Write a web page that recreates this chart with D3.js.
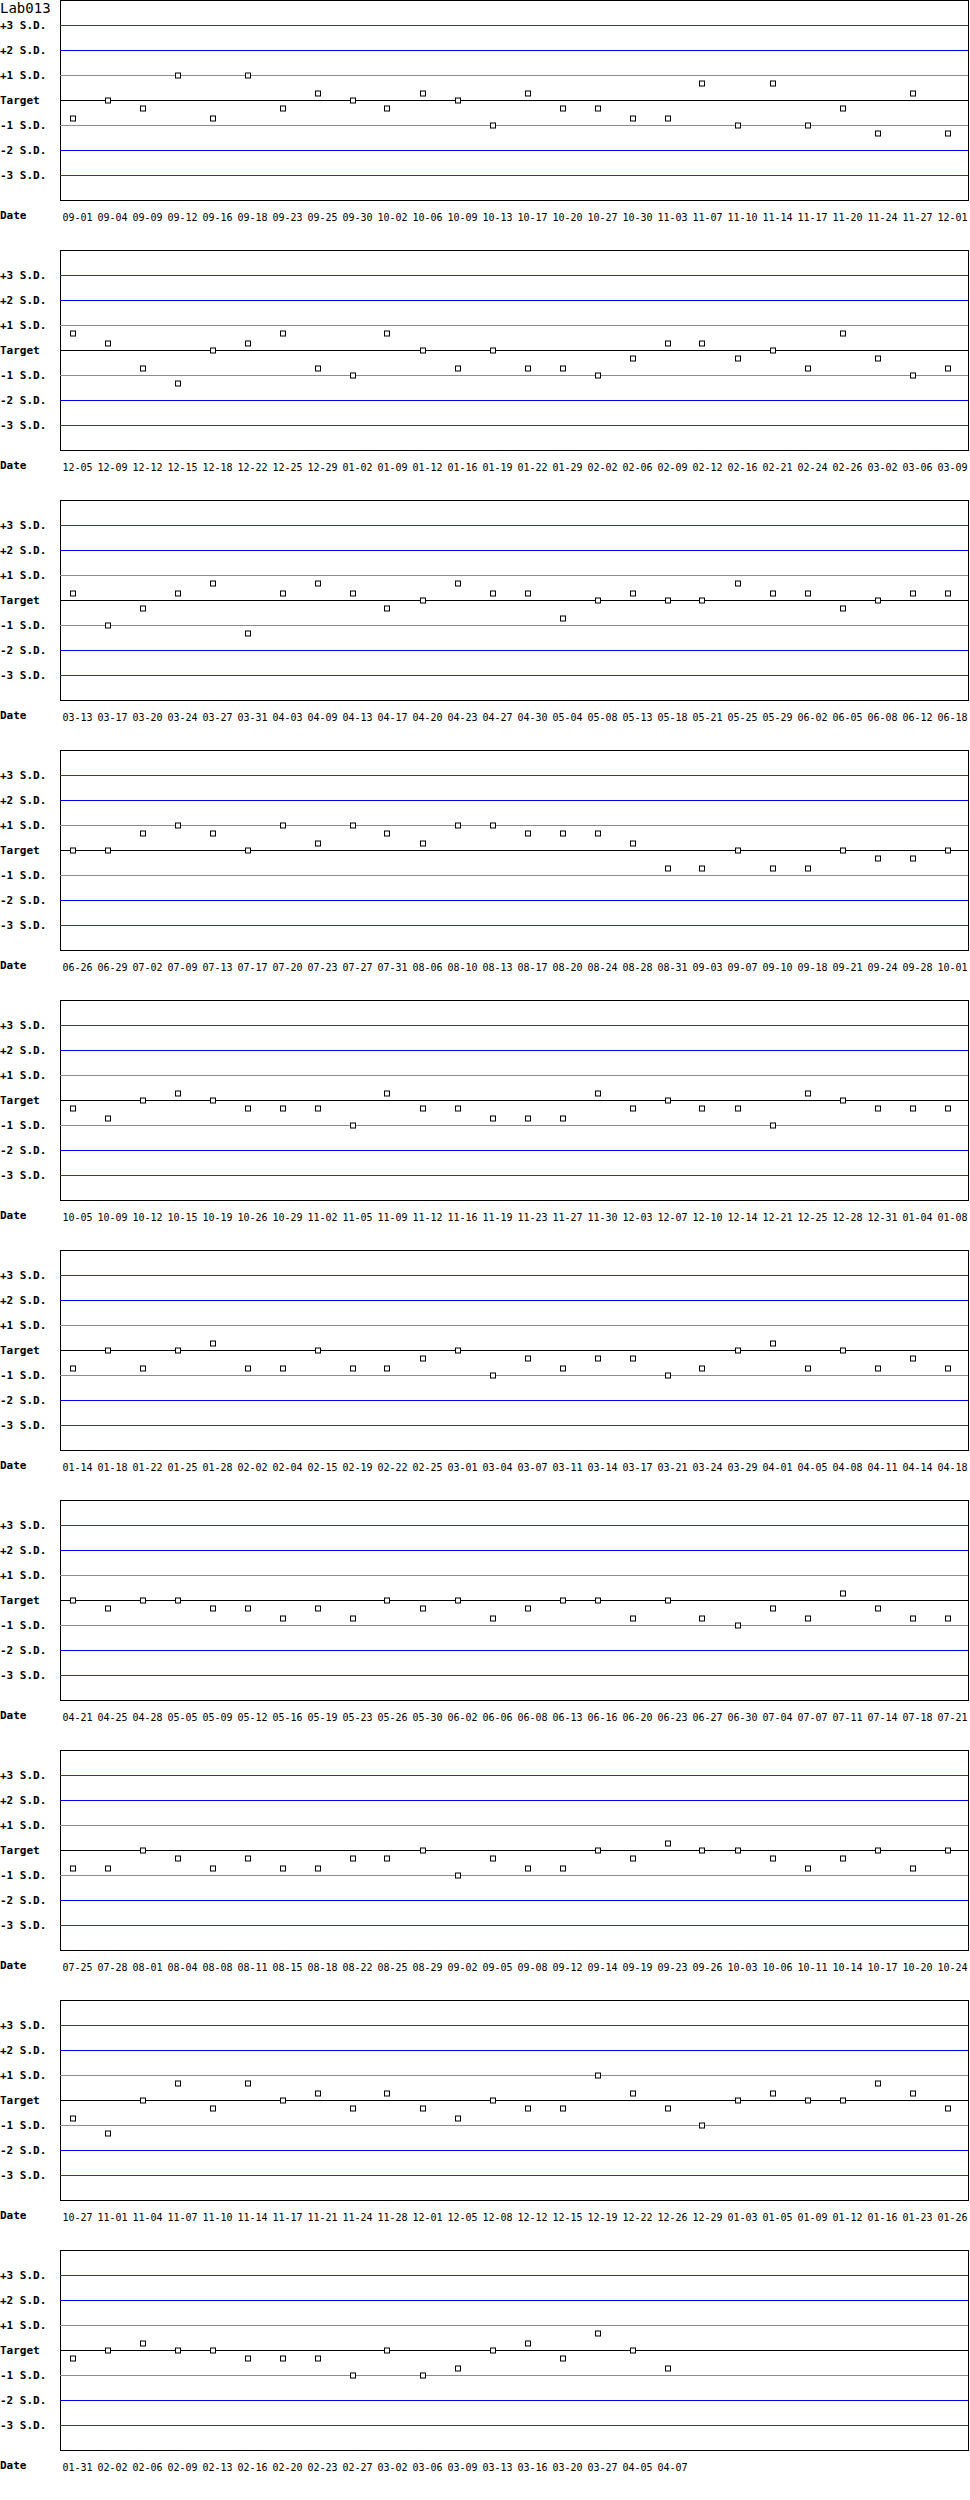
<!DOCTYPE html>
<html lang="en">
<head>
<meta charset="utf-8">
<title>Lab013</title>
<script src="https://cdn.jsdelivr.net/npm/d3@7/dist/d3.min.js"></script>
<style>
body { margin: 0; background: #fff; }
text { font-family: "DejaVu Sans Mono", "Liberation Mono", monospace; fill: #000; }
.sdlab { font-size: 11px; font-weight: bold; }
.tick { font-size: 10px; }
</style>
</head>
<body>
<script>

var title = "Lab013";

// run dates, 26 per strip
var dates = [
  "09-01","09-04","09-09","09-12","09-16","09-18","09-23","09-25","09-30","10-02","10-06","10-09","10-13",
  "10-17","10-20","10-27","10-30","11-03","11-07","11-10","11-14","11-17","11-20","11-24","11-27","12-01",
  "12-05","12-09","12-12","12-15","12-18","12-22","12-25","12-29","01-02","01-09","01-12","01-16","01-19",
  "01-22","01-29","02-02","02-06","02-09","02-12","02-16","02-21","02-24","02-26","03-02","03-06","03-09",
  "03-13","03-17","03-20","03-24","03-27","03-31","04-03","04-09","04-13","04-17","04-20","04-23","04-27",
  "04-30","05-04","05-08","05-13","05-18","05-21","05-25","05-29","06-02","06-05","06-08","06-12","06-18",
  "06-26","06-29","07-02","07-09","07-13","07-17","07-20","07-23","07-27","07-31","08-06","08-10","08-13",
  "08-17","08-20","08-24","08-28","08-31","09-03","09-07","09-10","09-18","09-21","09-24","09-28","10-01",
  "10-05","10-09","10-12","10-15","10-19","10-26","10-29","11-02","11-05","11-09","11-12","11-16","11-19",
  "11-23","11-27","11-30","12-03","12-07","12-10","12-14","12-21","12-25","12-28","12-31","01-04","01-08",
  "01-14","01-18","01-22","01-25","01-28","02-02","02-04","02-15","02-19","02-22","02-25","03-01","03-04",
  "03-07","03-11","03-14","03-17","03-21","03-24","03-29","04-01","04-05","04-08","04-11","04-14","04-18",
  "04-21","04-25","04-28","05-05","05-09","05-12","05-16","05-19","05-23","05-26","05-30","06-02","06-06",
  "06-08","06-13","06-16","06-20","06-23","06-27","06-30","07-04","07-07","07-11","07-14","07-18","07-21",
  "07-25","07-28","08-01","08-04","08-08","08-11","08-15","08-18","08-22","08-25","08-29","09-02","09-05",
  "09-08","09-12","09-14","09-19","09-23","09-26","10-03","10-06","10-11","10-14","10-17","10-20","10-24",
  "10-27","11-01","11-04","11-07","11-10","11-14","11-17","11-21","11-24","11-28","12-01","12-05","12-08",
  "12-12","12-15","12-19","12-22","12-26","12-29","01-03","01-05","01-09","01-12","01-16","01-23","01-26",
  "01-31","02-02","02-06","02-09","02-13","02-16","02-20","02-23","02-27","03-02","03-06","03-09","03-13",
  "03-16","03-20","03-27","04-05","04-07"
];

// results in S.D. units from target
var sdValues = [
  -0.7, 0, -0.3, 1.0, -0.7, 1.0, -0.3, 0.3, 0, -0.3, 0.3, 0, -1.0,
  0.3, -0.3, -0.3, -0.7, -0.7, 0.7, -1.0, 0.7, -1.0, -0.3, -1.3, 0.3, -1.3,
  0.7, 0.3, -0.7, -1.3, 0, 0.3, 0.7, -0.7, -1.0, 0.7, 0, -0.7, 0,
  -0.7, -0.7, -1.0, -0.3, 0.3, 0.3, -0.3, 0, -0.7, 0.7, -0.3, -1.0, -0.7,
  0.3, -1.0, -0.3, 0.3, 0.7, -1.3, 0.3, 0.7, 0.3, -0.3, 0, 0.7, 0.3,
  0.3, -0.7, 0, 0.3, 0, 0, 0.7, 0.3, 0.3, -0.3, 0, 0.3, 0.3,
  0, 0, 0.7, 1.0, 0.7, 0, 1.0, 0.3, 1.0, 0.7, 0.3, 1.0, 1.0,
  0.7, 0.7, 0.7, 0.3, -0.7, -0.7, 0, -0.7, -0.7, 0, -0.3, -0.3, 0,
  -0.3, -0.7, 0, 0.3, 0, -0.3, -0.3, -0.3, -1.0, 0.3, -0.3, -0.3, -0.7,
  -0.7, -0.7, 0.3, -0.3, 0, -0.3, -0.3, -1.0, 0.3, 0, -0.3, -0.3, -0.3,
  -0.7, 0, -0.7, 0, 0.3, -0.7, -0.7, 0, -0.7, -0.7, -0.3, 0, -1.0,
  -0.3, -0.7, -0.3, -0.3, -1.0, -0.7, 0, 0.3, -0.7, 0, -0.7, -0.3, -0.7,
  0, -0.3, 0, 0, -0.3, -0.3, -0.7, -0.3, -0.7, 0, -0.3, 0, -0.7,
  -0.3, 0, 0, -0.7, 0, -0.7, -1.0, -0.3, -0.7, 0.3, -0.3, -0.7, -0.7,
  -0.7, -0.7, 0, -0.3, -0.7, -0.3, -0.7, -0.7, -0.3, -0.3, 0, -1.0, -0.3,
  -0.7, -0.7, 0, -0.3, 0.3, 0, 0, -0.3, -0.7, -0.3, 0, -0.7, 0,
  -0.7, -1.3, 0, 0.7, -0.3, 0.7, 0, 0.3, -0.3, 0.3, -0.3, -0.7, 0,
  -0.3, -0.3, 1.0, 0.3, -0.3, -1.0, 0, 0.3, 0, 0, 0.7, 0.3, -0.3,
  -0.3, 0, 0.3, 0, 0, -0.3, -0.3, -0.3, -1.0, 0, -1.0, -0.7, 0,
  0.3, -0.3, 0.7, 0, -0.7
];

var sdLevels = [3, 2, 1, 0, -1, -2, -3];
var sdLabels = ["+3 S.D.", "+2 S.D.", "+1 S.D.", "Target", "-1 S.D.", "-2 S.D.", "-3 S.D."];
var sdColors = ["#d40000", "#0000f0", "#8c8c8c", "#000000", "#8c8c8c", "#0000f0", "#d40000"];

var perStrip = 26;
var stripH = 250;
var boxL = 60, boxR = 968, boxH = 200;

var strips = d3.range(Math.ceil(dates.length / perStrip)).map(function(k) {
  return d3.range(k * perStrip, Math.min(dates.length, (k + 1) * perStrip)).map(function(i) {
    return { date: dates[i], v: sdValues[i] };
  });
});

var svg = d3.select("body").append("svg")
  .attr("width", 970)
  .attr("height", strips.length * stripH);

var y = d3.scaleLinear().domain([-4, 4]).range([boxH, 0]);
var x = d3.scaleLinear().domain([0, perStrip - 1]).range([72.5, 947.5]);

var g = svg.selectAll("g.strip")
  .data(strips)
  .enter().append("g")
  .attr("class", "strip")
  .attr("transform", function(d, k) { return "translate(0," + (k * stripH) + ")"; });

// frame
g.append("rect")
  .attr("x", boxL + 0.5)
  .attr("y", 0.5)
  .attr("width", boxR - boxL)
  .attr("height", boxH)
  .attr("fill", "none")
  .attr("stroke", "#000");

// control limit lines
g.selectAll("line.sd")
  .data(sdLevels)
  .enter().append("line")
  .attr("class", "sd")
  .attr("x1", boxL)
  .attr("x2", boxR)
  .attr("y1", function(d) { return y(d) + 0.5; })
  .attr("y2", function(d) { return y(d) + 0.5; })
  .attr("stroke", function(d, i) { return sdColors[i]; })
  .attr("stroke-width", 1);

g.selectAll("text.sdlab")
  .data(sdLevels)
  .enter().append("text")
  .attr("class", "sdlab")
  .attr("x", 0)
  .attr("y", function(d) { return y(d) + 4; })
  .text(function(d, i) { return sdLabels[i]; });

g.append("text")
  .attr("class", "sdlab")
  .attr("x", 0)
  .attr("y", boxH + 19)
  .text("Date");

// date ticks
g.selectAll("text.tick")
  .data(function(d) { return d; })
  .enter().append("text")
  .attr("class", "tick")
  .attr("x", function(d, i) { return x(i) + 5; })
  .attr("y", boxH + 21)
  .attr("text-anchor", "middle")
  .text(function(d) { return d.date; });

// results
g.selectAll("rect.pt")
  .data(function(d) { return d; })
  .enter().append("rect")
  .attr("class", "pt")
  .attr("x", function(d, i) { return Math.round(x(i)) - 2.5; })
  .attr("y", function(d) { return Math.round(y(d.v)) - 2; })
  .attr("width", 5)
  .attr("height", 5)
  .attr("fill", "#fff")
  .attr("stroke", "#000");

svg.append("text")
  .attr("x", 0)
  .attr("y", 13)
  .style("font-size", "14px")
  .text(title);

</script>
</body>
</html>
